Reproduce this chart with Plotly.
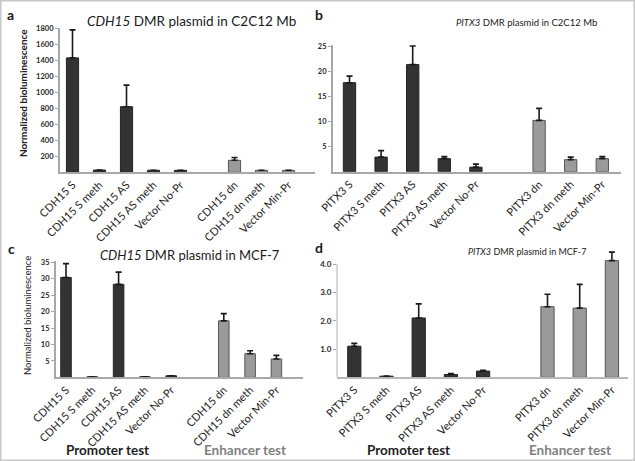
import plotly.graph_objects as go

W, H = 635, 461

# ---------------- data ----------------
cdh15_labels = ["CDH15 S", "CDH15 S meth", "CDH15 AS", "CDH15 AS meth", "Vector No-Pr",
                "CDH15 dn", "CDH15 dn meth", "Vector Min-Pr"]
pitx3_labels = ["PITX3 S", "PITX3 S meth", "PITX3 AS", "PITX3 AS meth", "Vector No-Pr",
                "PITX3 dn", "PITX3 dn meth", "Vector Min-Pr"]
slots = [0, 1, 2, 3, 4, 6, 7, 8]          # category slot (slot 5 is the gap)
group = ["P", "P", "P", "P", "P", "E", "E", "E"]  # promoter / enhancer test

a_vals = [1430, 28, 820, 25, 25, 150, 25, 25]
a_err = [350, 0, 270, 0, 0, 35, 0, 0]

b_vals = [17.7, 2.9, 21.3, 2.6, 0.9, 10.2, 2.4, 2.6]
b_err = [1.3, 1.3, 3.7, 0.4, 0.6, 2.4, 0.5, 0.4]

c_vals = [30.4, 0.2, 28.3, 0.2, 0.5, 17.2, 7.2, 5.6]
c_err = [4.2, 0, 3.7, 0, 0, 2.2, 0.9, 1.1]

d_vals = [1.1, 0.04, 2.1, 0.1, 0.22, 2.5, 2.45, 4.13]
d_err = [0.1, 0, 0.5, 0.03, 0.03, 0.44, 0.84, 0.3]

a_ticks = [200, 400, 600, 800, 1000, 1200, 1400, 1600, 1800]
b_ticks = [5, 10, 15, 20, 25]
c_ticks = [5, 10, 15, 20, 25, 30, 35]
d_ticks = [1.0, 2.0, 3.0, 4.0]

titles = ["<i>CDH15</i> DMR plasmid in C2C12 Mb", "<i>PITX3</i> DMR plasmid in C2C12 Mb",
          "<i>CDH15</i> DMR plasmid in MCF-7", "<i>PITX3</i> DMR plasmid in MCF-7"]
letters = ["a", "b", "c", "d"]

# ---------------- layout geometry (pixels) ----------------
def fx(p):
    return p / W

def fy(p):
    return 1 - p / H

panels = [
    dict(vals=a_vals, err=a_err, labels=cdh15_labels, ticks=a_ticks, fmt="d",
         x0=60, c0=72.5, s=27.0, x1=315, yb=172.3, yt=28, tv=1800, tp=28.3, bw=0.45,
         title_x=191, title_y=21, title_size=13.5, tick_size=7.5, letter=(10, 14)),
    dict(vals=b_vals, err=b_err, labels=pitx3_labels, ticks=b_ticks, fmt="d",
         x0=333, c0=349.5, s=31.6, x1=621, yb=171.7, yt=45, tv=25, tp=46, bw=0.39,
         title_x=526, title_y=22, title_size=9.5, tick_size=7.5, letter=(319, 14)),
    dict(vals=c_vals, err=c_err, labels=cdh15_labels, ticks=c_ticks, fmt="d",
         x0=56, c0=66, s=26.3, x1=303, yb=377.4, yt=261, tv=35, tp=262.3, bw=0.4,
         title_x=190, title_y=255, title_size=13, tick_size=7.5, letter=(11, 248)),
    dict(vals=d_vals, err=d_err, labels=pitx3_labels, ticks=d_ticks, fmt=".1f",
         x0=337, c0=354.3, s=32.2, x1=628, yb=377.3, yt=250, tv=4.0, tp=264.3, bw=0.41,
         title_x=527, title_y=252, title_size=9, tick_size=8, letter=(319, 247)),
]

fig = go.Figure()
layout = dict(width=W, height=H, autosize=False, margin=dict(l=0, r=0, t=0, b=0, pad=0),
              paper_bgcolor="white", plot_bgcolor="white", showlegend=False,
              font=dict(family="Lato, Open Sans, sans-serif", color="#222"))
annotations = []
shapes = []

fill_col = {"P": "#333333", "E": "#9a9a9a"}
line_col = {"P": "#222222", "E": "#555555"}

for i, p in enumerate(panels):
    n = "" if i == 0 else str(i + 1)
    xa, ya = "x" + n, "y" + n
    for g in ("P", "E"):
        idx = [k for k in range(len(slots)) if group[k] == g]
        fig.add_trace(go.Bar(
            x=[slots[k] for k in idx], y=[p["vals"][k] for k in idx],
            width=p["bw"], xaxis=xa, yaxis=ya,
            marker=dict(color=fill_col[g], line=dict(color=line_col[g], width=1)),
            error_y=dict(type="data", symmetric=False,
                         array=[p["err"][k] for k in idx],
                         arrayminus=[0] * len(idx),
                         color="#1a1a1a", thickness=1.6, width=3),
            hoverinfo="skip"))
    scale = (p["yb"] - p["tp"]) / p["tv"]
    ymax = (p["yb"] - p["yt"]) / scale
    d_panel = (i == 3)
    layout["xaxis" + n] = dict(
        domain=[fx(p["x0"]), fx(p["x1"])], automargin=False,
        range=[(p["x0"] - p["c0"]) / p["s"], (p["x1"] - p["c0"]) / p["s"]],
        anchor=ya, tickmode="array", tickvals=slots, ticktext=p["labels"],
        tickangle=-45, tickfont=dict(size=11, color="#1e1e1e"),
        showline=True, linecolor="#a8a8a8" if not d_panel else "#b8b8b8",
        linewidth=2, ticks="", showgrid=False, zeroline=False, fixedrange=True)
    layout["yaxis" + n] = dict(
        domain=[fy(p["yb"]), fy(p["yt"])], range=[0, ymax], anchor=xa, automargin=False,
        tickmode="array", tickvals=p["ticks"],
        ticktext=["<b>" + format(t, p["fmt"]) + "</b>" for t in p["ticks"]],
        tickfont=dict(size=p["tick_size"], color="#2a2a2a"),
        showline=not d_panel, linecolor="#a8a8a8", linewidth=2,
        ticks="outside", ticklen=3, tickcolor="#a8a8a8", tickwidth=1,
        showgrid=False, zeroline=False, fixedrange=True)
    if d_panel:
        shapes.append(dict(type="line", xref=xa + " domain", yref=ya,
                           x0=0, x1=0, y0=0, y1=p["tv"],
                           line=dict(color="#bdbdbd", width=1.2), layer="below"))
    annotations.append(dict(text=titles[i], x=fx(p["title_x"]), y=fy(p["title_y"]),
                            xref="paper", yref="paper", showarrow=False,
                            xanchor="center", yanchor="middle",
                            font=dict(size=p["title_size"], color="#1a1a1a")))
    annotations.append(dict(text="<b>" + letters[i] + "</b>",
                            x=fx(p["letter"][0]), y=fy(p["letter"][1]),
                            xref="paper", yref="paper", showarrow=False,
                            xanchor="center", yanchor="middle",
                            font=dict(size=14, color="#1a1a1a")))

# y-axis titles
annotations.append(dict(text="<b>Normalized bioluminescence</b>", x=fx(23), y=fy(93),
                        xref="paper", yref="paper", showarrow=False, textangle=-90,
                        xanchor="center", yanchor="middle",
                        font=dict(size=10, color="#222")))
annotations.append(dict(text="Normalized bioluminescence", x=fx(27), y=fy(316),
                        xref="paper", yref="paper", showarrow=False, textangle=-90,
                        xanchor="center", yanchor="middle",
                        font=dict(size=9.5, color="#222")))

# group labels
for cx, txt, col in [(107, "Promoter test", "#1e1e1e"), (245, "Enhancer test", "#7f7f7f"),
                     (408, "Promoter test", "#1e1e1e"), (570, "Enhancer test", "#7f7f7f")]:
    annotations.append(dict(text="<b>" + txt + "</b>", x=fx(cx), y=fy(450),
                            xref="paper", yref="paper", showarrow=False,
                            xanchor="center", yanchor="middle",
                            font=dict(size=13.5, color=col)))

# image frame
shapes.append(dict(type="rect", xref="paper", yref="paper", x0=0, x1=1, y0=0, y1=1,
                   line=dict(color="#c8c8c8", width=3), fillcolor="rgba(0,0,0,0)"))

layout["annotations"] = annotations
layout["shapes"] = shapes
fig.update_layout(**layout)
fig.write_html("out.html", config={"displayModeBar": False},
               post_script="document.body.style.margin='0';document.body.style.overflow='hidden';")
